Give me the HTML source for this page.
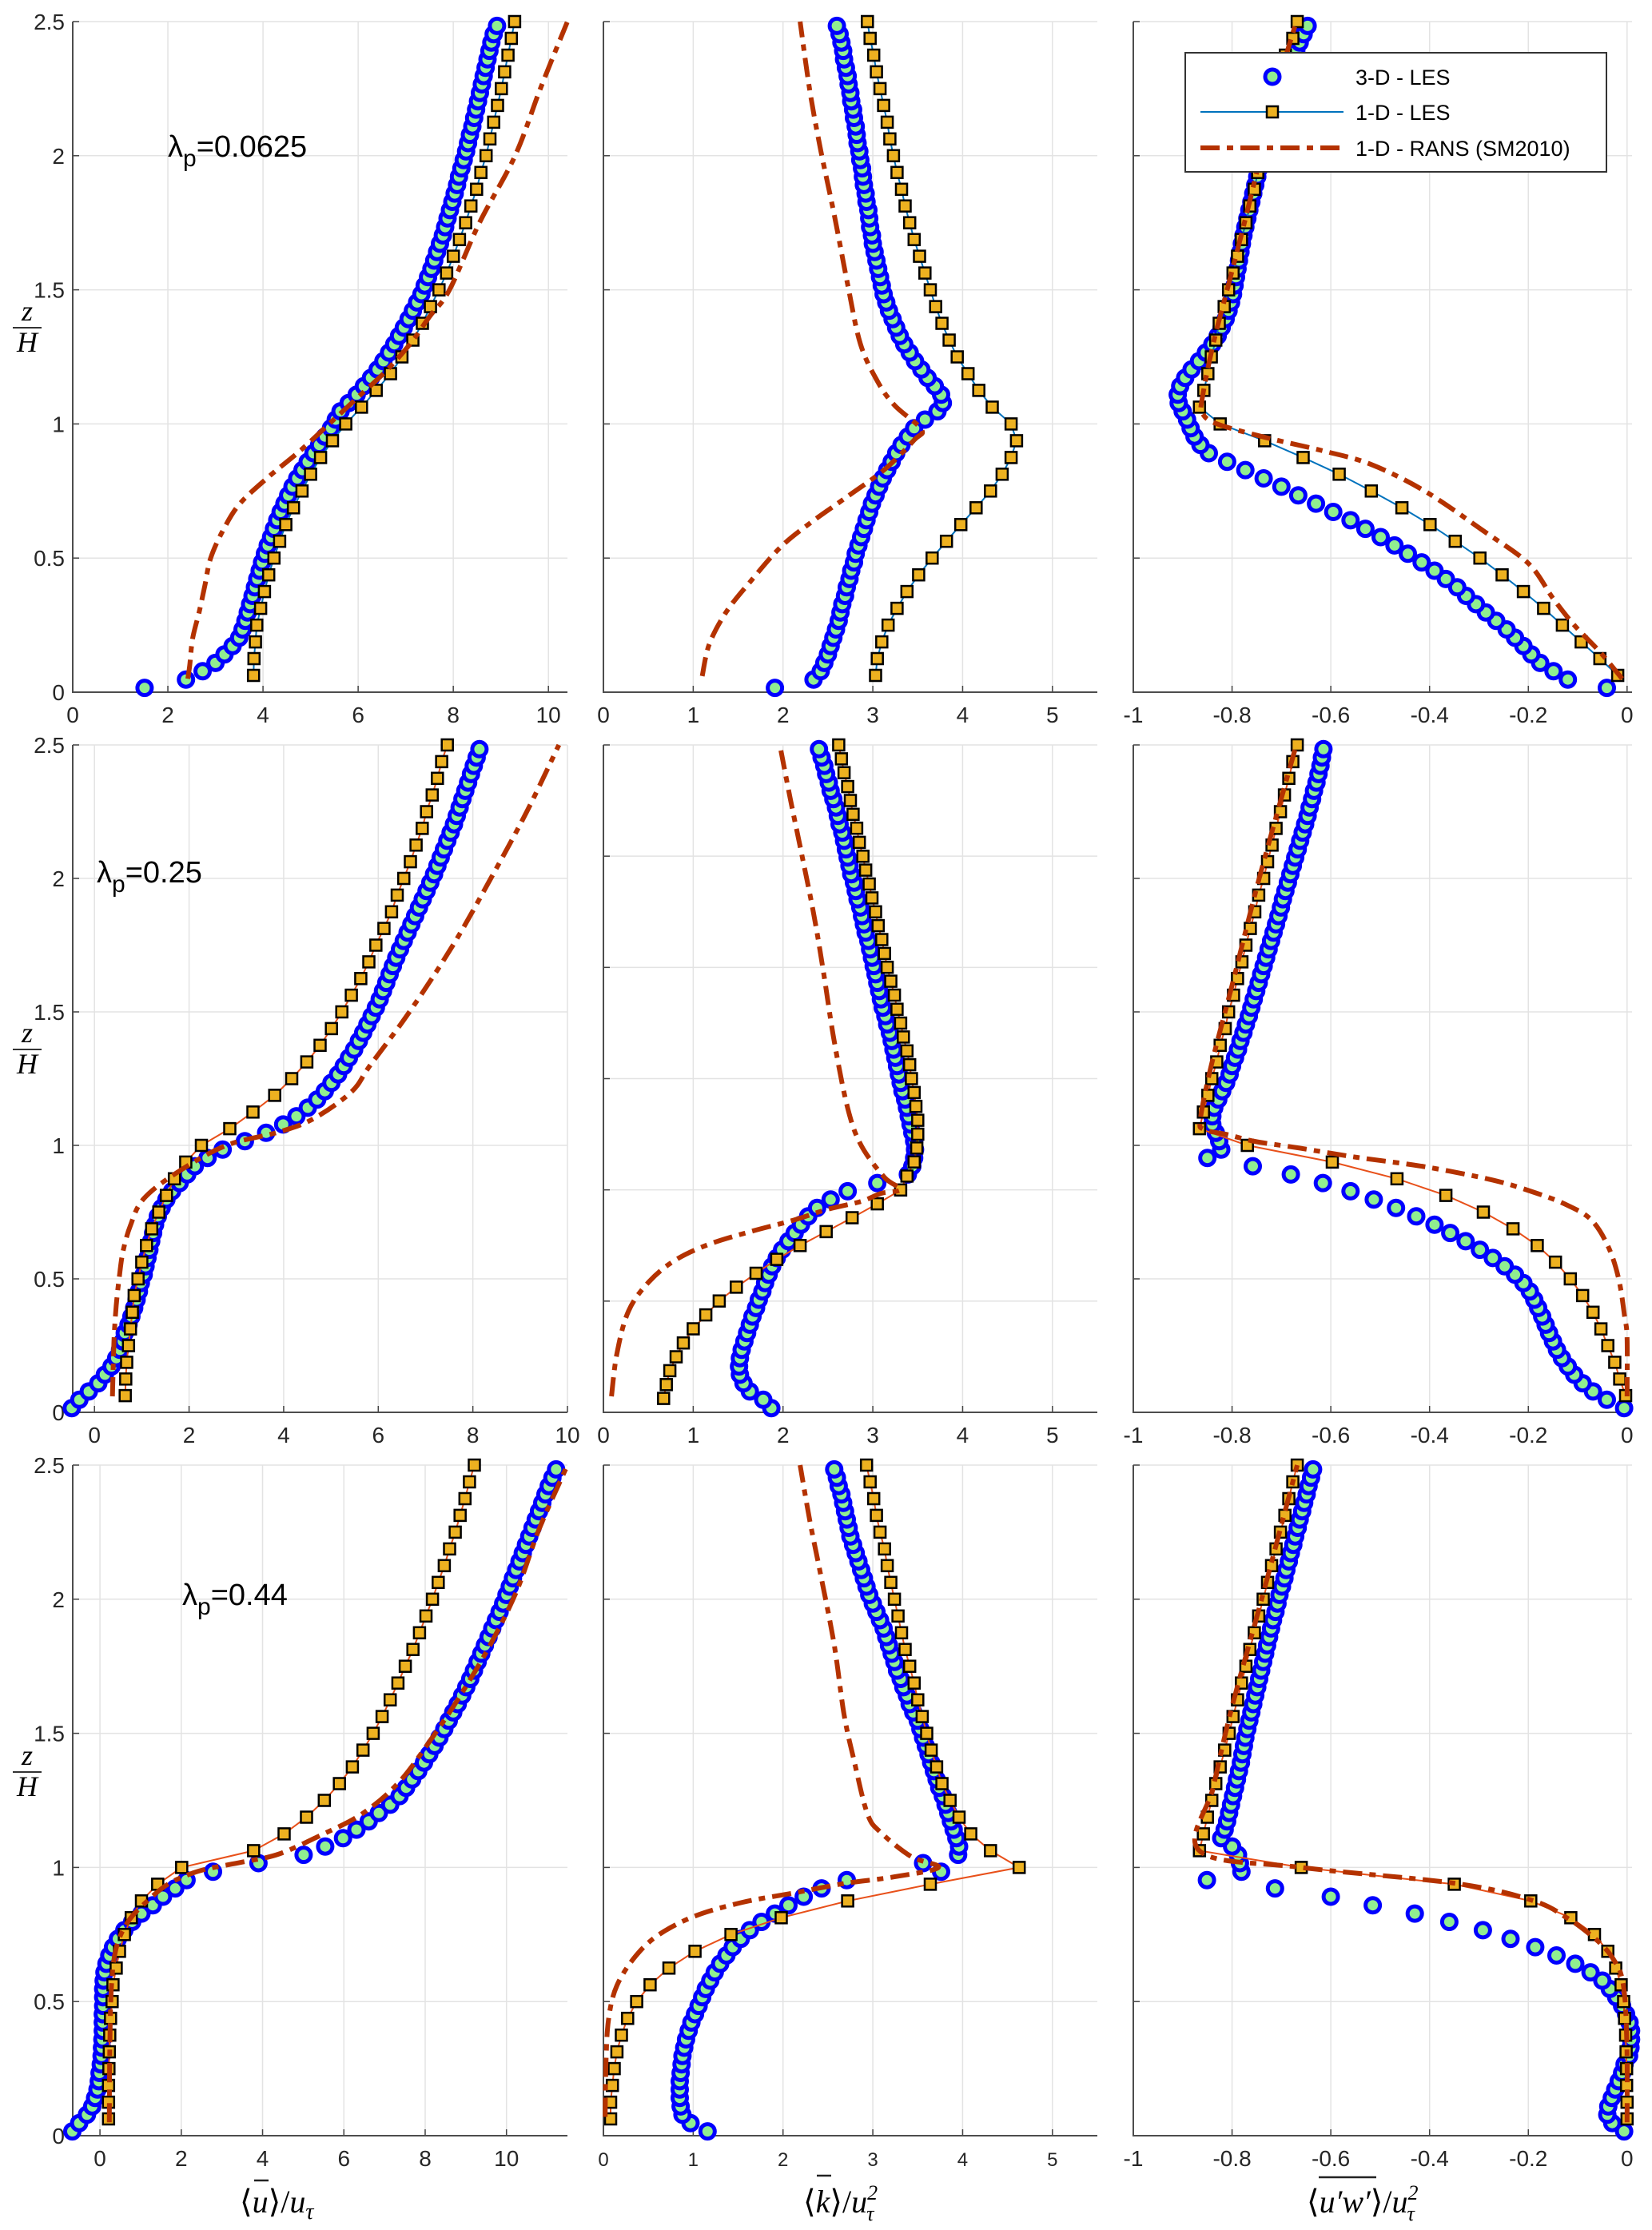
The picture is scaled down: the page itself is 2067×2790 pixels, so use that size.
<!DOCTYPE html>
<html><head><meta charset="utf-8"><style>
html,body{margin:0;padding:0;background:#fff;}
svg{display:block;font-family:"Liberation Sans",sans-serif;}
</style></head><body>
<svg id="fig" xmlns="http://www.w3.org/2000/svg" width="2067" height="2790" viewBox="0 0 2067 2790">
<rect x="0" y="0" width="2067" height="2790" fill="#fff"/>
<g id="panels"></g>
<g id="labels">
  <text x="210" y="196" font-size="38">λ<tspan font-size="30" dy="12">p</tspan><tspan dy="-12">=0.0625</tspan></text>
  <text x="121" y="1104" font-size="38">λ<tspan font-size="30" dy="12">p</tspan><tspan dy="-12">=0.25</tspan></text>
  <text x="228" y="2008" font-size="38">λ<tspan font-size="30" dy="12">p</tspan><tspan dy="-12">=0.44</tspan></text>
  <g font-family="Liberation Serif,serif" font-style="italic" font-size="36" text-anchor="middle">
    <text x="34" y="401">z</text><line x1="16" x2="52" y1="410" y2="410" stroke="#333" stroke-width="2"/><text x="34" y="440">H</text></g>
  <g font-family="Liberation Serif,serif" font-style="italic" font-size="36" text-anchor="middle">
    <text x="34" y="1304">z</text><line x1="16" x2="52" y1="1313" y2="1313" stroke="#333" stroke-width="2"/><text x="34" y="1343">H</text></g>
  <g font-family="Liberation Serif,serif" font-style="italic" font-size="36" text-anchor="middle">
    <text x="34" y="2208" font-size="36">z</text><line x1="16" x2="52" y1="2217" y2="2217" stroke="#333" stroke-width="2"/><text x="34" y="2247">H</text></g>
  <g font-family="Liberation Serif,serif" font-size="40">
    <text x="300" y="2768">⟨<tspan font-style="italic">u</tspan>⟩/<tspan font-style="italic">u</tspan><tspan font-style="italic" font-size="28" dy="8">τ</tspan></text>
    <line x1="318" x2="336" y1="2728" y2="2728" stroke="#222" stroke-width="2.5"/></g>
  <g font-family="Liberation Serif,serif" font-size="40">
    <text x="1005" y="2768">⟨<tspan font-style="italic">k</tspan>⟩/<tspan font-style="italic">u</tspan><tspan font-style="italic" font-size="26" dy="-16">2</tspan><tspan font-style="italic" font-size="26" dx="-14" dy="26">τ</tspan></text>
    <line x1="1022" x2="1040" y1="2722" y2="2722" stroke="#222" stroke-width="2.5"/></g>
  <g font-family="Liberation Serif,serif" font-size="40">
    <text x="1635" y="2768">⟨<tspan font-style="italic">u′w′</tspan>⟩/<tspan font-style="italic">u</tspan><tspan font-style="italic" font-size="26" dy="-16">2</tspan><tspan font-style="italic" font-size="26" dx="-14" dy="26">τ</tspan></text>
    <line x1="1650" x2="1722" y1="2724" y2="2724" stroke="#222" stroke-width="2.5"/></g>
</g>
<g id="legend">
  <rect x="1483" y="66" width="527" height="149" fill="#fff" stroke="#333" stroke-width="2"/>
  <g>
    <circle cx="1592" cy="96" r="9" fill="#90ee90" stroke="#0000ff" stroke-width="5"/>
    <text x="1696" y="106" font-size="27">3-D - LES</text></g>
  <g>
    <line x1="1502" x2="1681" y1="140" y2="140" stroke="#0072bd" stroke-width="2"/>
    <rect x="1585" y="133" width="14" height="14" fill="#edb120" stroke="#000" stroke-width="2.5"/>
    <text x="1696" y="150" font-size="27">1-D - LES</text></g>
  <g>
    <line x1="1502" x2="1681" y1="185" y2="185" stroke="#b43200" stroke-width="6" stroke-dasharray="24 9 8 9"/>
    <text x="1696" y="195" font-size="27">1-D - RANS (SM2010)</text></g>
</g>
</svg>
<script>
// ---- data ----
const circZ = [0.016,0.047,0.078,0.109,0.141,0.172,0.203,0.234,0.266,0.297,0.328,0.359,0.391,0.422,0.453,0.484,0.516,0.547,0.578,0.609,0.641,0.672,0.703,0.734,0.766,0.797,0.828,0.859,0.891,0.922,0.953,0.984,1.016,1.047,1.078,1.109,1.141,1.172,1.203,1.234,1.266,1.297,1.328,1.359,1.391,1.422,1.453,1.484,1.516,1.547,1.578,1.609,1.641,1.672,1.703,1.734,1.766,1.797,1.828,1.859,1.891,1.922,1.953,1.984,2.016,2.047,2.078,2.109,2.141,2.172,2.203,2.234,2.266,2.297,2.328,2.359,2.391,2.422,2.453,2.484];
const sqZ40 = [0.0625,0.125,0.1875,0.25,0.3125,0.375,0.4375,0.5,0.5625,0.625,0.6875,0.75,0.8125,0.875,0.9375,1,1.0625,1.125,1.1875,1.25,1.3125,1.375,1.4375,1.5,1.5625,1.625,1.6875,1.75,1.8125,1.875,1.9375,2,2.0625,2.125,2.1875,2.25,2.3125,2.375,2.4375,2.5];
const sqZ48 = [0.052,0.104,0.156,0.208,0.260,0.313,0.365,0.417,0.469,0.521,0.573,0.625,0.677,0.729,0.781,0.833,0.885,0.938,0.990,1.042,1.094,1.146,1.198,1.25,1.302,1.354,1.406,1.458,1.510,1.563,1.615,1.667,1.719,1.771,1.823,1.875,1.927,1.979,2.031,2.083,2.135,2.188,2.24,2.292,2.344,2.396,2.448,2.5];

const les3dU1 = [1.51,2.38,2.73,3.0,3.19,3.36,3.5,3.57,3.63,3.68,3.73,3.78,3.83,3.88,3.93,3.98,4.04,4.1,4.17,4.23,4.3,4.37,4.45,4.53,4.62,4.72,4.83,4.94,5.06,5.18,5.3,5.43,5.53,5.63,5.8,5.97,6.12,6.27,6.41,6.53,6.65,6.76,6.86,6.96,7.06,7.15,7.24,7.33,7.4,7.47,7.54,7.6,7.66,7.72,7.78,7.83,7.88,7.93,7.98,8.03,8.08,8.12,8.17,8.22,8.27,8.31,8.35,8.4,8.44,8.48,8.52,8.56,8.6,8.64,8.68,8.72,8.76,8.8,8.85,8.92];
const les1dU1 = [3.8,3.81,3.84,3.87,3.95,4.03,4.12,4.23,4.35,4.48,4.64,4.82,5.0,5.21,5.46,5.74,6.07,6.38,6.68,6.92,7.15,7.35,7.52,7.7,7.86,8.0,8.13,8.26,8.37,8.49,8.58,8.69,8.77,8.85,8.93,9.01,9.08,9.15,9.22,9.29];
const ransZU1 = [0.05,0.1,0.2,0.3,0.4,0.5,0.6,0.7,0.8,0.9,1.0,1.1,1.2,1.3,1.4,1.5,1.75,2.0,2.25,2.5];
const ransU1 = [2.42,2.46,2.52,2.66,2.78,2.9,3.15,3.5,4.1,4.78,5.39,6.0,6.6,7.1,7.5,7.92,8.55,9.3,9.83,10.4];

const les3dK1 = [1.91,2.34,2.42,2.46,2.5,2.53,2.56,2.59,2.62,2.64,2.66,2.69,2.71,2.74,2.76,2.79,2.81,2.84,2.87,2.9,2.93,2.96,2.99,3.03,3.07,3.11,3.16,3.21,3.26,3.32,3.39,3.46,3.58,3.72,3.78,3.76,3.69,3.61,3.54,3.47,3.41,3.35,3.3,3.26,3.22,3.18,3.15,3.12,3.1,3.08,3.06,3.04,3.02,3.0,2.99,2.97,2.96,2.95,2.93,2.92,2.9,2.89,2.88,2.86,2.85,2.83,2.82,2.81,2.79,2.78,2.76,2.75,2.73,2.72,2.7,2.68,2.67,2.65,2.63,2.6];
const les1dK1 = [3.03,3.05,3.1,3.17,3.27,3.38,3.51,3.66,3.82,3.98,4.15,4.31,4.44,4.54,4.6,4.54,4.33,4.18,4.06,3.94,3.85,3.77,3.7,3.64,3.58,3.52,3.46,3.41,3.36,3.32,3.27,3.23,3.19,3.16,3.12,3.08,3.04,3.01,2.97,2.94];
const ransZK1 = [0.06,0.18,0.3,0.41,0.54,0.63,0.73,0.83,0.94,0.98,1.07,1.16,1.3,1.52,1.78,2.02,2.24,2.5];
const ransK1 = [1.1,1.18,1.37,1.63,1.97,2.3,2.72,3.13,3.46,3.54,3.24,3.05,2.86,2.72,2.57,2.42,2.3,2.19];

const les3dW1 = [-0.041,-0.12,-0.149,-0.176,-0.194,-0.21,-0.227,-0.244,-0.265,-0.286,-0.306,-0.326,-0.344,-0.367,-0.39,-0.416,-0.444,-0.471,-0.499,-0.53,-0.56,-0.595,-0.63,-0.666,-0.7,-0.736,-0.773,-0.81,-0.847,-0.864,-0.876,-0.884,-0.891,-0.9,-0.908,-0.91,-0.905,-0.895,-0.882,-0.867,-0.853,-0.84,-0.829,-0.821,-0.813,-0.807,-0.802,-0.798,-0.795,-0.792,-0.789,-0.786,-0.783,-0.78,-0.777,-0.773,-0.769,-0.765,-0.761,-0.757,-0.753,-0.749,-0.745,-0.741,-0.737,-0.733,-0.728,-0.723,-0.718,-0.713,-0.707,-0.701,-0.695,-0.689,-0.683,-0.677,-0.67,-0.663,-0.655,-0.647];
const les1dW1 = [-0.019,-0.055,-0.093,-0.131,-0.169,-0.21,-0.253,-0.298,-0.348,-0.399,-0.456,-0.518,-0.583,-0.656,-0.734,-0.824,-0.866,-0.857,-0.849,-0.842,-0.833,-0.826,-0.816,-0.807,-0.798,-0.789,-0.781,-0.772,-0.764,-0.755,-0.748,-0.741,-0.733,-0.726,-0.719,-0.711,-0.702,-0.692,-0.677,-0.668];
const ransZW1 = [0.05,0.15,0.25,0.35,0.48,0.6,0.75,0.85,0.9,0.95,1.0,1.04,1.1,1.3,1.5,1.75,2.0,2.25,2.5];
const ransW1 = [-0.01,-0.055,-0.107,-0.15,-0.2,-0.29,-0.41,-0.52,-0.616,-0.733,-0.83,-0.86,-0.86,-0.838,-0.81,-0.775,-0.742,-0.71,-0.67];

const les3dU2 = [-0.48,-0.32,-0.12,0.08,0.22,0.36,0.46,0.54,0.6,0.64,0.72,0.78,0.84,0.89,0.94,0.98,1.04,1.08,1.12,1.16,1.2,1.24,1.28,1.34,1.42,1.52,1.64,1.8,1.96,2.12,2.39,2.71,3.18,3.63,3.99,4.27,4.51,4.71,4.87,5.01,5.15,5.27,5.38,5.49,5.59,5.68,5.77,5.86,5.95,6.03,6.1,6.17,6.24,6.31,6.38,6.46,6.54,6.62,6.7,6.78,6.86,6.94,7.02,7.1,7.18,7.25,7.32,7.39,7.46,7.53,7.6,7.66,7.72,7.78,7.84,7.9,7.96,8.02,8.08,8.14];
const les1dU2 = [0.65,0.66,0.68,0.72,0.76,0.8,0.84,0.92,1.0,1.1,1.21,1.36,1.52,1.69,1.93,2.26,2.86,3.35,3.81,4.17,4.49,4.77,5.01,5.23,5.43,5.63,5.8,5.95,6.12,6.28,6.4,6.54,6.68,6.8,6.93,7.02,7.14,7.25,7.34,7.46];
const ransZU2 = [0.06,0.2,0.3,0.4,0.5,0.6,0.7,0.8,0.9,1.0,1.05,1.1,1.2,1.3,1.5,1.75,2.0,2.25,2.5];
const ransU2 = [0.38,0.4,0.42,0.46,0.52,0.6,0.76,1.04,1.76,2.79,3.9,4.63,5.43,5.83,6.66,7.58,8.38,9.14,9.82];

const les3dK2 = [1.87,1.78,1.63,1.56,1.52,1.51,1.52,1.54,1.57,1.6,1.63,1.66,1.7,1.73,1.77,1.8,1.84,1.88,1.93,1.99,2.06,2.13,2.2,2.28,2.38,2.53,2.72,3.05,3.39,3.44,3.46,3.47,3.46,3.44,3.42,3.4,3.38,3.36,3.33,3.31,3.29,3.27,3.25,3.23,3.21,3.19,3.16,3.14,3.11,3.09,3.07,3.05,3.03,3.01,2.99,2.97,2.95,2.92,2.9,2.88,2.86,2.83,2.81,2.79,2.76,2.74,2.72,2.7,2.68,2.66,2.63,2.61,2.59,2.56,2.53,2.51,2.48,2.46,2.43,2.4];
const les1dK2 = [0.67,0.7,0.74,0.81,0.89,1.0,1.14,1.29,1.48,1.7,1.93,2.19,2.48,2.77,3.05,3.31,3.38,3.46,3.49,3.5,3.5,3.48,3.46,3.43,3.41,3.38,3.34,3.31,3.27,3.24,3.2,3.16,3.13,3.1,3.06,3.03,2.99,2.96,2.92,2.89,2.85,2.82,2.78,2.75,2.72,2.68,2.65,2.62];
const ransZK2 = [0.06,0.22,0.38,0.49,0.57,0.63,0.68,0.72,0.76,0.79,0.82,0.835,0.88,1.0,1.14,1.39,1.65,1.87,2.12,2.3,2.49];
const ransK2 = [0.09,0.15,0.28,0.51,0.8,1.18,1.67,2.12,2.49,2.87,3.09,3.31,3.13,2.87,2.72,2.57,2.45,2.34,2.19,2.08,1.97];

const les3dW2 = [-0.006,-0.041,-0.069,-0.09,-0.107,-0.12,-0.132,-0.142,-0.15,-0.158,-0.165,-0.172,-0.18,-0.188,-0.197,-0.21,-0.227,-0.248,-0.272,-0.298,-0.327,-0.358,-0.39,-0.427,-0.468,-0.513,-0.56,-0.616,-0.681,-0.758,-0.85,-0.822,-0.826,-0.833,-0.84,-0.84,-0.836,-0.828,-0.82,-0.812,-0.805,-0.8,-0.794,-0.788,-0.783,-0.777,-0.772,-0.766,-0.761,-0.756,-0.751,-0.746,-0.741,-0.736,-0.731,-0.726,-0.721,-0.716,-0.711,-0.706,-0.701,-0.697,-0.692,-0.687,-0.682,-0.677,-0.672,-0.667,-0.662,-0.657,-0.652,-0.647,-0.643,-0.638,-0.634,-0.629,-0.625,-0.621,-0.618,-0.615];
const les1dW2 = [-0.003,-0.015,-0.025,-0.039,-0.053,-0.069,-0.09,-0.115,-0.145,-0.182,-0.231,-0.291,-0.367,-0.466,-0.597,-0.769,-0.866,-0.858,-0.849,-0.841,-0.831,-0.824,-0.814,-0.807,-0.797,-0.789,-0.78,-0.772,-0.763,-0.754,-0.746,-0.736,-0.728,-0.719,-0.711,-0.702,-0.694,-0.685,-0.677,-0.668];
const ransZW2 = [0.06,0.28,0.36,0.5,0.62,0.72,0.775,0.82,0.87,0.92,0.955,0.99,1.015,1.04,1.06,1.1,1.3,1.6,2.0,2.5];
const ransW2 = [0.0,0.0,-0.005,-0.017,-0.038,-0.072,-0.12,-0.182,-0.272,-0.41,-0.547,-0.664,-0.754,-0.809,-0.857,-0.864,-0.842,-0.8,-0.745,-0.67];

const les3dU3 = [-0.68,-0.51,-0.32,-0.19,-0.12,-0.06,-0.03,-0.01,0.02,0.04,0.05,0.06,0.07,0.07,0.07,0.08,0.08,0.08,0.09,0.11,0.16,0.23,0.32,0.44,0.6,0.79,1.02,1.3,1.55,1.85,2.13,2.78,3.9,5.01,5.54,5.98,6.31,6.61,6.86,7.14,7.37,7.53,7.68,7.83,7.97,8.1,8.23,8.35,8.47,8.58,8.69,8.8,8.91,9.01,9.11,9.2,9.29,9.38,9.47,9.56,9.65,9.74,9.83,9.92,10.0,10.08,10.16,10.24,10.32,10.4,10.48,10.56,10.64,10.72,10.8,10.88,10.96,11.04,11.13,11.22];
const les1dU3 = [0.21,0.21,0.21,0.22,0.23,0.24,0.26,0.3,0.32,0.4,0.48,0.6,0.77,1.02,1.42,2.01,3.78,4.53,5.08,5.52,5.89,6.21,6.47,6.72,6.94,7.14,7.33,7.51,7.7,7.86,8.02,8.18,8.32,8.47,8.6,8.74,8.86,8.98,9.09,9.21];
const ransZU3 = [0.05,0.3,0.55,0.7,0.8,0.88,0.94,0.98,1.0,1.02,1.05,1.12,1.2,1.32,1.49,1.64,1.83,2.03,2.26,2.5];
const ransU3 = [0.23,0.24,0.28,0.4,0.7,1.2,1.7,2.3,2.8,3.5,4.4,5.43,6.45,7.37,8.2,8.86,9.6,10.25,10.8,11.5];

const les3dK3 = [1.16,0.97,0.88,0.86,0.85,0.85,0.85,0.86,0.87,0.88,0.9,0.92,0.95,0.98,1.02,1.06,1.1,1.14,1.19,1.24,1.3,1.37,1.44,1.53,1.63,1.76,1.91,2.06,2.23,2.43,2.71,3.76,3.56,3.95,3.96,3.93,3.9,3.87,3.84,3.81,3.78,3.74,3.71,3.68,3.65,3.62,3.59,3.56,3.53,3.5,3.45,3.41,3.38,3.34,3.31,3.27,3.24,3.21,3.18,3.15,3.12,3.08,3.04,3.0,2.96,2.93,2.9,2.87,2.84,2.81,2.78,2.75,2.73,2.71,2.69,2.67,2.65,2.62,2.6,2.57];
const les1dK3 = [0.08,0.08,0.1,0.12,0.15,0.2,0.27,0.37,0.52,0.73,1.02,1.42,1.98,2.72,3.64,4.63,4.31,4.09,3.96,3.86,3.77,3.71,3.65,3.6,3.55,3.5,3.46,3.41,3.36,3.32,3.28,3.24,3.2,3.16,3.13,3.08,3.04,3.01,2.97,2.93];
const ransZK3 = [0.07,0.29,0.44,0.56,0.67,0.75,0.82,0.87,0.905,0.94,0.965,1.0,1.04,1.13,1.2,1.4,1.57,1.83,2.09,2.29,2.5];
const ransK3 = [0.02,0.03,0.06,0.15,0.36,0.62,1.03,1.55,2.12,2.68,3.24,3.73,3.43,3.09,2.94,2.79,2.68,2.57,2.42,2.3,2.19];

const les3dW3 = [-0.006,-0.03,-0.04,-0.038,-0.031,-0.024,-0.017,-0.01,-0.005,0.004,0.007,0.008,0.008,0.005,-0.002,-0.01,-0.022,-0.035,-0.05,-0.074,-0.105,-0.143,-0.186,-0.236,-0.292,-0.36,-0.43,-0.515,-0.6,-0.713,-0.851,-0.781,-0.784,-0.788,-0.8,-0.822,-0.815,-0.81,-0.806,-0.802,-0.798,-0.794,-0.79,-0.786,-0.782,-0.779,-0.776,-0.773,-0.769,-0.765,-0.761,-0.757,-0.753,-0.749,-0.745,-0.741,-0.737,-0.733,-0.729,-0.725,-0.721,-0.717,-0.712,-0.708,-0.704,-0.699,-0.694,-0.69,-0.685,-0.681,-0.676,-0.672,-0.667,-0.663,-0.658,-0.654,-0.649,-0.645,-0.64,-0.636];
const les1dW3 = [0,0,-0.001,-0.001,-0.002,-0.003,-0.005,-0.007,-0.012,-0.023,-0.039,-0.066,-0.114,-0.195,-0.35,-0.66,-0.866,-0.858,-0.85,-0.841,-0.833,-0.824,-0.815,-0.806,-0.798,-0.789,-0.781,-0.772,-0.764,-0.755,-0.746,-0.737,-0.728,-0.72,-0.711,-0.702,-0.693,-0.685,-0.677,-0.668];
const ransZW3 = [0.05,0.3,0.5,0.6,0.65,0.7,0.75,0.81,0.876,0.94,1.0,1.062,1.3,1.6,2.0,2.5];
const ransW3 = [0.0,0.0,-0.004,-0.012,-0.025,-0.045,-0.075,-0.12,-0.19,-0.345,-0.66,-0.866,-0.838,-0.8,-0.74,-0.668];

const uTicks = [0,2,4,6,8,10];
const kTicks = [0,1,2,3,4,5];
const wTicks = [-1,-0.8,-0.6,-0.4,-0.2,0];
const wTickLabels = ["-1","-0.8","-0.6","-0.4","-0.2","0"];
const zTickLabels = ["0","0.5","1","1.5","2","2.5"];

// ---- layout ----
const NS = "http://www.w3.org/2000/svg";
const colX = [[91,710],[755,1373],[1418,2042]];
const rowY = [[27,866],[932,1767],[1833,2672]];
const panels = [
 {r:0,c:0,xr:[0,10.4],ticks:uTicks,tl:null,c3:les3dU1,c1:les1dU1,sz:sqZ40,rz:ransZU1,rx:ransU1,lc:"#0072bd",yt:5},
 {r:0,c:1,xr:[0,5.5],ticks:kTicks,tl:null,c3:les3dK1,c1:les1dK1,sz:sqZ40,rz:ransZK1,rx:ransK1,lc:"#0072bd",yt:5},
 {r:0,c:2,xr:[-1,0.01],ticks:wTicks,tl:wTickLabels,c3:les3dW1,c1:les1dW1,sz:sqZ40,rz:ransZW1,rx:ransW1,lc:"#0072bd",yt:5},
 {r:1,c:0,xr:[-0.46,10.0],ticks:uTicks,tl:null,c3:les3dU2,c1:les1dU2,sz:sqZ40,rz:ransZU2,rx:ransU2,lc:"#e8501a",yt:5},
 {r:1,c:1,xr:[0,5.5],ticks:kTicks,tl:null,c3:les3dK2,c1:les1dK2,sz:sqZ48,rz:ransZK2,rx:ransK2,lc:"#e8501a",yt:6},
 {r:1,c:2,xr:[-1,0.01],ticks:wTicks,tl:wTickLabels,c3:les3dW2,c1:les1dW2,sz:sqZ40,rz:ransZW2,rx:ransW2,lc:"#e8501a",yt:5},
 {r:2,c:0,xr:[-0.67,11.5],ticks:uTicks,tl:null,c3:les3dU3,c1:les1dU3,sz:sqZ40,rz:ransZU3,rx:ransU3,lc:"#e8501a",yt:5},
 {r:2,c:1,xr:[0,5.5],ticks:kTicks,tl:null,c3:les3dK3,c1:les1dK3,sz:sqZ40,rz:ransZK3,rx:ransK3,lc:"#e8501a",yt:5},
 {r:2,c:2,xr:[-1,0.01],ticks:wTicks,tl:wTickLabels,c3:les3dW3,c1:les1dW3,sz:sqZ40,rz:ransZW3,rx:ransW3,lc:"#e8501a",yt:5}
];
const root = document.getElementById("panels");
function mk(tag, attrs, parent){
  const e = document.createElementNS(NS, tag);
  for (const k in attrs) e.setAttribute(k, attrs[k]);
  parent.appendChild(e);
  return e;
}
function smoothPath(P){
  let d = "M" + P[0][0].toFixed(1) + "," + P[0][1].toFixed(1);
  for (let i = 0; i < P.length - 1; i++) {
    const p0 = P[Math.max(0, i-1)], p1 = P[i], p2 = P[i+1], p3 = P[Math.min(P.length-1, i+2)];
    const c1x = p1[0] + (p2[0]-p0[0])/6, c1y = p1[1] + (p2[1]-p0[1])/6;
    const c2x = p2[0] - (p3[0]-p1[0])/6, c2y = p2[1] - (p3[1]-p1[1])/6;
    d += " C" + c1x.toFixed(1) + "," + c1y.toFixed(1) + " " + c2x.toFixed(1) + "," + c2y.toFixed(1) + " " + p2[0].toFixed(1) + "," + p2[1].toFixed(1);
  }
  return d;
}
panels.forEach((p, pi) => {
  const [x0,x1] = colX[p.c], [y0,y1] = rowY[p.r];
  const sx = v => x0 + (v - p.xr[0]) / (p.xr[1] - p.xr[0]) * (x1 - x0);
  const sy = z => y1 - z / 2.5 * (y1 - y0);
  const g = mk("g", {}, root);
  
  
  p.ticks.forEach((t, i) => {
    const X = sx(t);
    const gl = mk("line", {x1:X, x2:X, y1:y0, y2:y1, stroke:"#e3e3e3", "stroke-width":1.5}, g);
    
    
    const tk = mk("line", {x1:X, x2:X, y1:y1, y2:y1-8, stroke:"#444", "stroke-width":1.5}, g);
    
    
    const lb = mk("text", {x:X, y:y1+38, "font-size": (p.r==2 && p.c==1) ? 24 : 28, "text-anchor":"middle", fill:"#262626"}, g);
    lb.textContent = p.tl ? p.tl[i] : String(t);
    
    
  });
  for (let i = 0; i <= p.yt; i++) {
    const z = 2.5 * i / p.yt, Y = sy(z);
    const gl = mk("line", {x1:x0, x2:x1, y1:Y, y2:Y, stroke:"#e3e3e3", "stroke-width":1.5}, g);
    
    
    const tk = mk("line", {x1:x0, x2:x0+8, y1:Y, y2:Y, stroke:"#444", "stroke-width":1.5}, g);
    
    
    if (p.c == 0) {
      const lb = mk("text", {x:x0-10, y:Y+10, "font-size":28, "text-anchor":"end", fill:"#262626"}, g);
      lb.textContent = zTickLabels[i];
      
      
    }
  }
  const ax = mk("path", {d:`M${x0},${y0} L${x0},${y1} L${x1},${y1}`, fill:"none", stroke:"#4d4d4d", "stroke-width":2}, g);
  
  
  const gc = mk("g", {fill:"#90ee90", stroke:"#0000ff", "stroke-width":5}, g);
  
  
  p.c3.forEach((v, i) => {
    const c = mk("circle", {cx:sx(v).toFixed(1), cy:sy(circZ[i]).toFixed(1), r:9}, gc);
    
    
  });
  const pts = p.c1.map((v, i) => sx(v).toFixed(1) + "," + sy(p.sz[i]).toFixed(1)).join(" ");
  const pl = mk("polyline", {points:pts, fill:"none", stroke:p.lc, "stroke-width":2}, g);
  
  
  const gs = mk("g", {fill:"#edb120", stroke:"#000", "stroke-width":2.5}, g);
  
  
  p.c1.forEach((v, i) => {
    const s = mk("rect", {x:(sx(v)-7).toFixed(1), y:(sy(p.sz[i])-7).toFixed(1), width:14, height:14}, gs);
    
    
  });
  const RP = p.rx.map((v, i) => [sx(v), sy(p.rz[i])]);
  const rl = mk("path", {d:smoothPath(RP), fill:"none", stroke:"#b43200", "stroke-width":6, "stroke-dasharray":"24 9 8 9", "stroke-linejoin":"round"}, g);
  
  
});
const svg = document.getElementById("fig");
svg.appendChild(document.getElementById("legend"));
</script>
</body></html>
